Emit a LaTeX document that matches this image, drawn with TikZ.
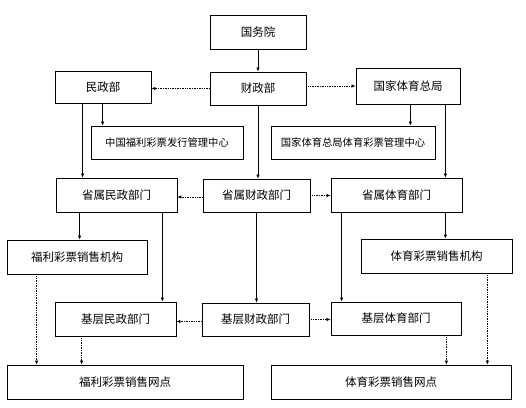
\documentclass[tikz,border=0pt]{standalone}
\usepackage{fontspec}
\setmainfont{Noto Sans CJK SC}
\usetikzlibrary{arrows.meta}
\usetikzlibrary{positioning,calc}

\begin{document}
\begin{tikzpicture}[x=1pt,y=-1pt,
         unit/.style = {draw,line width=0.8pt,inner sep=0pt,
         font=\fontsize{11.5}{13}\selectfont},
         centre/.style = {unit,font=\fontsize{10.3}{12}\selectfont},
         link/.style = {line width=0.7pt,-{Latex[length=4pt,width=3.5pt]}},
         hint/.style = {link,densely dotted}
]
      \useasboundingbox (0,0) rectangle (526,407);

      % central level
      \node[unit,minimum width=96pt,minimum height=34pt]  (gwy) at (258,32)    {国务院};
      \node[unit,minimum width=96pt,minimum height=33pt]  (czb) at (258,88.5)  {财政部};
      \node[unit,minimum width=96pt,minimum height=32pt]  (mzb) at (103,87)    {民政部};
      \node[unit,minimum width=104pt,minimum height=36pt] (tyj) at (408,86)    {国家体育总局};

      % lottery centres
      \node[centre,minimum width=152pt,minimum height=33pt] (flzx) at (167,142.5) {中国福利彩票发行管理中心};
      \node[centre,minimum width=164pt,minimum height=33pt] (tyzx) at (353,142.5) {国家体育总局体育彩票管理中心};

      % province level
      \node[unit,minimum width=121pt,minimum height=34pt] (smz) at (116.5,195) {省属民政部门};
      \node[unit,minimum width=107pt,minimum height=33pt] (scz) at (256.5,195.5) {省属财政部门};
      \node[unit,minimum width=131pt,minimum height=34pt] (sty) at (396.5,195) {省属体育部门};

      \node[unit,minimum width=140pt,minimum height=34pt] (fljg) at (77,257)    {福利彩票销售机构};
      \node[unit,minimum width=151pt,minimum height=34pt] (tyjg) at (436.5,256) {体育彩票销售机构};

      % local level
      \node[unit,minimum width=121pt,minimum height=34pt] (jmz) at (115.5,319) {基层民政部门};
      \node[unit,minimum width=107pt,minimum height=33pt] (jcz) at (255.5,319.5) {基层财政部门};
      \node[unit,minimum width=130pt,minimum height=33pt] (jty) at (396,318.5) {基层体育部门};

      % sales points
      \node[unit,minimum width=236pt,minimum height=34pt] (flwd) at (125,382) {福利彩票销售网点};
      \node[unit,minimum width=240pt,minimum height=34pt] (tywd) at (391,382) {体育彩票销售网点};

      % solid links
      \draw[link] (gwy.south) -- (czb.north);
      \draw[link] (czb.south) -- (czb.south |- scz.north);
      \draw[link] (scz.south) -- (scz.south |- jcz.north);
      \draw[link] ([xshift=12pt]flzx.north west |- mzb.south) -- ([xshift=12pt]flzx.north west);
      \draw[link] ([xshift=27pt]smz.north west |- mzb.south) -- ([xshift=27pt]smz.north west);
      \draw[link] ([xshift=-25pt]tyzx.north east |- tyj.south) -- ([xshift=-25pt]tyzx.north east);
      \draw[link] ([xshift=-15pt]tyj.south east) -- ([xshift=-15pt]tyj.south east |- sty.north);
      \draw[link] ([xshift=24pt]smz.south west) -- ([xshift=24pt]smz.south west |- fljg.north);
      \draw[link] ([xshift=-15pt]smz.south east) -- ([xshift=-15pt]smz.south east |- jmz.north);
      \draw[link] ([xshift=-17pt]sty.south east) -- ([xshift=-17pt]sty.south east |- tyjg.north);
      \draw[link] ([xshift=11pt]sty.south west) -- ([xshift=11pt]sty.south west |- jty.north);

      % dotted links
      \draw[hint] (czb.west) -- (czb.west -| mzb.east);
      \draw[hint] (czb.east |- tyj.west) -- (tyj.west);
      \draw[hint] ([yshift=-1.5pt]scz.west) -- ([yshift=-1.5pt]scz.west -| smz.east);
      \draw[hint] (scz.east) -- (scz.east -| sty.west);
      \draw[hint] ([yshift=-2pt]jcz.west) -- ([yshift=-2pt]jcz.west -| jmz.east);
      \draw[hint] (jcz.east) -- (jcz.east -| jty.west);
      \draw[hint] ([xshift=30pt]fljg.south west) -- ([xshift=30pt]fljg.south west |- flwd.north);
      \draw[hint] ([xshift=27pt]jmz.south west) -- ([xshift=27pt]jmz.south west |- flwd.north);
      \draw[hint] ([xshift=-15pt]jty.south east) -- ([xshift=-15pt]jty.south east |- tywd.north);
      \draw[hint] ([xshift=-25pt]tyjg.south east) -- ([xshift=-25pt]tyjg.south east |- tywd.north);
\end{tikzpicture}
\end{document}
